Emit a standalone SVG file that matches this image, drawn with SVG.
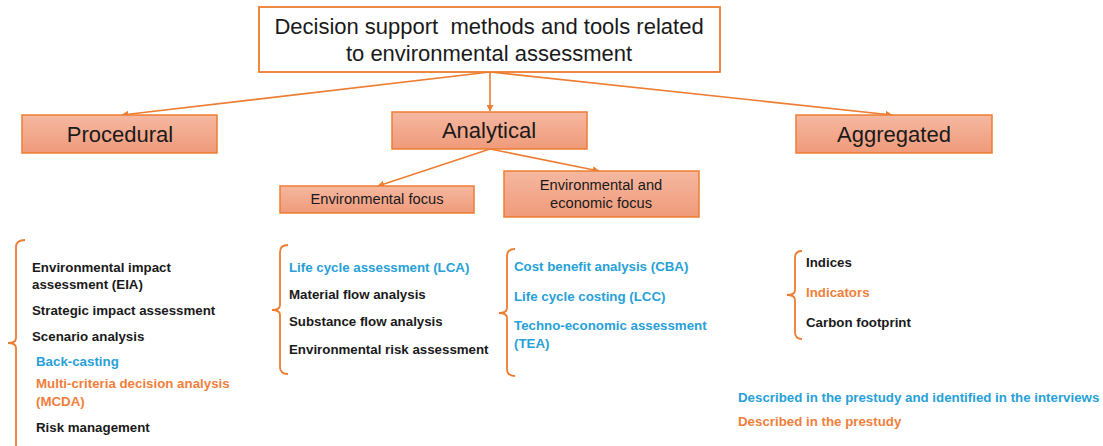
<svg xmlns="http://www.w3.org/2000/svg" width="1103" height="446" viewBox="0 0 1103 446">
  <defs>
    <linearGradient id="boxFill" x1="0" y1="0" x2="0" y2="1">
      <stop offset="0" stop-color="#f5b8a1"/>
      <stop offset="1" stop-color="#f09a7a"/>
    </linearGradient>
    <marker id="arrow" viewBox="0 0 10 10" refX="9" refY="5" markerWidth="7" markerHeight="7" markerUnits="userSpaceOnUse" orient="auto">
      <path d="M0,0 L10,5 L0,10 z" fill="#ed7d31"/>
    </marker>
    <style>
      .box { fill: url(#boxFill); stroke: #ed7d31; stroke-width: 1.5; }
      .root { fill: #ffffff; stroke: #ed7d31; stroke-width: 1.8; }
      .edge { stroke: #ed7d31; stroke-width: 1.6; fill: none; marker-end: url(#arrow); }
      .brace { stroke: #ed7d31; stroke-width: 1.8; fill: none; }
      text { font-family: "Liberation Sans", Arial, sans-serif; fill: #1a1a1a; }
      .title { font-size: 22px; text-anchor: middle; }
      .cat { font-size: 22px; text-anchor: middle; }
      .sub { font-size: 14.7px; text-anchor: middle; }
      .item { font-size: 13.3px; font-weight: bold; }
      .blue { fill: #27a1d8; }
      .orange { fill: #f07f3c; }
    </style>
  </defs>

  <!-- connectors -->
  <g id="connectors">
    <path class="edge" d="M490,72 L122,115"/>
    <path class="edge" d="M490,72 L490,111"/>
    <path class="edge" d="M490,72 L892,115"/>
    <path class="edge" d="M490,149 L378,186"/>
    <path class="edge" d="M490,149 L599,171"/>
  </g>

  <g id="root">
    <rect class="root" x="259" y="7" width="461" height="65"/>
    <text class="title" x="489" y="34" xml:space="preserve">Decision support  methods and tools related</text>
    <text class="title" x="489" y="61">to environmental assessment</text>
  </g>

  <g id="procedural">
    <rect class="box" x="22" y="115" width="195" height="38"/>
    <text class="cat" x="120" y="142">Procedural</text>
  </g>

  <g id="analytical">
    <rect class="box" x="392" y="112" width="195" height="37"/>
    <text class="cat" x="489" y="138">Analytical</text>
  </g>

  <g id="aggregated">
    <rect class="box" x="796" y="115" width="196" height="38"/>
    <text class="cat" x="894" y="142">Aggregated</text>
  </g>

  <g id="env-focus">
    <rect class="box" x="280" y="186" width="194" height="27"/>
    <text class="sub" x="377" y="204">Environmental focus</text>
  </g>

  <g id="env-econ-focus">
    <rect class="box" x="504" y="171" width="195" height="46"/>
    <text class="sub" x="601" y="190">Environmental and</text>
    <text class="sub" x="601" y="208">economic focus</text>
  </g>

  <!-- procedural methods -->
  <g id="procedural-list">
    <path class="brace" d="M25,240 Q16,240 16,247 L16,338 Q16,343 8,343 Q16,343 16,348 L16,450"/>
    <text class="item" x="32" y="272">Environmental impact</text>
    <text class="item" x="32" y="289">assessment (EIA)</text>
    <text class="item" x="32" y="315">Strategic impact assessment</text>
    <text class="item" x="32" y="341">Scenario analysis</text>
    <text class="item blue" x="36" y="366">Back-casting</text>
    <text class="item orange" x="36" y="388">Multi-criteria decision analysis</text>
    <text class="item orange" x="36" y="406">(MCDA)</text>
    <text class="item" x="36" y="432">Risk management</text>
  </g>

  <!-- environmental focus methods -->
  <g id="env-focus-list">
    <path class="brace" d="M288,245 Q280,245 280,252 L280,305 Q280,310 272,310 Q280,310 280,315 L280,367 Q280,374 288,374"/>
    <text class="item blue" x="289" y="272">Life cycle assessment (LCA)</text>
    <text class="item" x="289" y="299">Material flow analysis</text>
    <text class="item" x="289" y="326">Substance flow analysis</text>
    <text class="item" x="289" y="354">Environmental risk assessment</text>
  </g>

  <!-- environmental and economic focus methods -->
  <g id="env-econ-list">
    <path class="brace" d="M515,249 Q507,249 507,256 L507,308 Q507,313 499,313 Q507,313 507,318 L507,369 Q507,376 515,376"/>
    <text class="item blue" x="514" y="271">Cost benefit analysis (CBA)</text>
    <text class="item blue" x="514" y="301">Life cycle costing (LCC)</text>
    <text class="item blue" x="514" y="330">Techno-economic assessment</text>
    <text class="item blue" x="514" y="348">(TEA)</text>
  </g>

  <!-- aggregated methods -->
  <g id="aggregated-list">
    <path class="brace" d="M802,251 Q795,251 795,258 L795,290 Q795,295 787,295 Q795,295 795,300 L795,332 Q795,339 802,339"/>
    <text class="item" x="806" y="267">Indices</text>
    <text class="item orange" x="806" y="297">Indicators</text>
    <text class="item" x="806" y="327">Carbon footprint</text>
  </g>

  <!-- colour key -->
  <g id="legend">
    <text class="item blue" x="738" y="402">Described in the prestudy and identified in the interviews</text>
    <text class="item orange" x="738" y="426">Described in the prestudy</text>
  </g>
</svg>
